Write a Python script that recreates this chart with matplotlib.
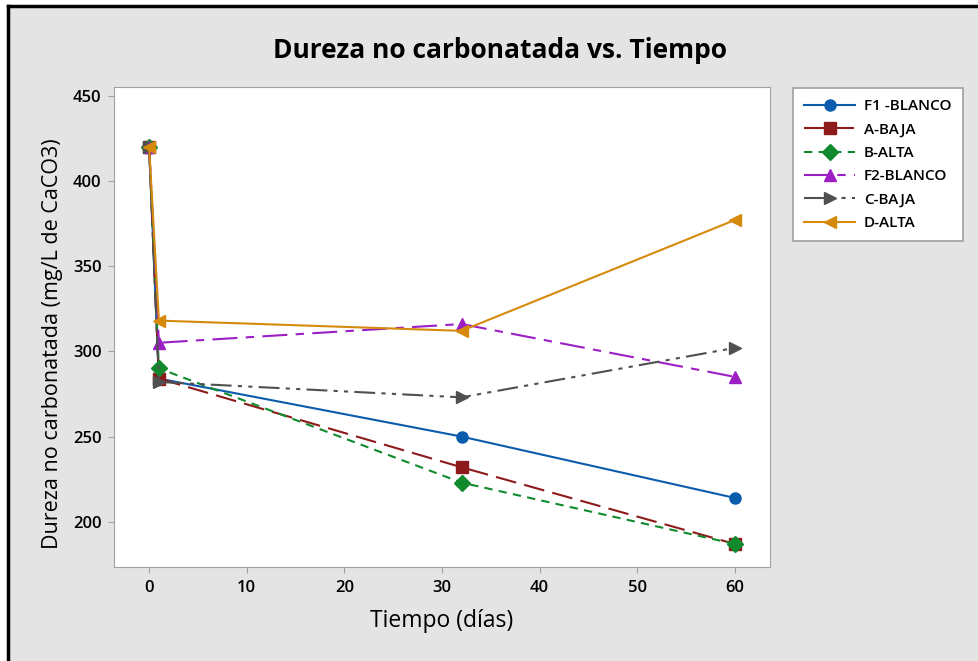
import matplotlib.pyplot as plt
from matplotlib.patches import Rectangle
from matplotlib.lines import Line2D

plt.rcParams['font.family'] = ['Open Sans', 'DejaVu Sans']

dias = [0, 1, 32, 60]
f1_blanco = [420, 284, 250, 214]
a_baja = [420, 284, 232, 187]
b_alta = [420, 290, 223, 187]
f2_blanco = [420, 305, 316, 285]
c_baja = [420, 282, 273, 302]
d_alta = [420, 318, 312, 377]

series = [
    ("F1 -BLANCO", f1_blanco, "#0B5CAD", "o", "-"),
    ("A-BAJA", a_baja, "#8E1B1B", "s", (0, (10, 4))),
    ("B-ALTA", b_alta, "#118A2E", "D", (0, (4, 3))),
    ("F2-BLANCO", f2_blanco, "#9C1FC4", "^", (0, (12, 4, 4, 4))),
    ("C-BAJA", c_baja, "#505050", ">", (0, (10, 3, 2, 3, 2, 3))),
    ("D-ALTA", d_alta, "#D68A0C", "<", "-"),
]

W, H = 979, 661
fig = plt.figure(figsize=(W / 100, H / 100), dpi=100, facecolor="white")

# gray panel with black left/top edge
fig.patches.append(Rectangle((8 / W, 0), 1, 1 - 6 / H, transform=fig.transFigure,
                             facecolor="#E4E4E4", edgecolor="none", zorder=-2))
fig.lines.append(Line2D([8 / W, 8 / W], [0, 1 - 6 / H], transform=fig.transFigure,
                        color="black", lw=2.5))
fig.lines.append(Line2D([8 / W, 1], [1 - 6 / H, 1 - 6 / H], transform=fig.transFigure,
                        color="black", lw=2.5))

ax = fig.add_axes([114 / W, 94 / H, (770 - 114) / W, (567 - 87) / H])
ax.set_facecolor("white")

for name, vals, col, mk, ls in series:
    ax.plot(dias, vals, color=col, marker=mk, linestyle=ls, lw=1.5,
            markersize=8, label=name)

ax.set_xlim(-3.6, 63.6)
ax.set_ylim(173.5, 455)
ax.set_xticks(range(0, 61, 10))
ax.set_yticks(range(200, 451, 50))
ax.tick_params(direction="out", length=4, color="#A0A0A0", labelsize=12, pad=5)
for lbl in ax.get_xticklabels() + ax.get_yticklabels():
    lbl.set_fontweight("semibold")
for sp in ax.spines.values():
    sp.set_color("#A0A0A0")

ax.set_xlabel("Tiempo (días)", fontsize=16.5, labelpad=10)
ax.set_ylabel("Dureza no carbonatada (mg/L de CaCO3)", fontsize=15.5)
ax.yaxis.set_label_coords(-0.078, 0.465)
fig.text(500 / W, 1 - 50 / H, "Dureza no carbonatada vs. Tiempo", ha="center",
         va="center", fontsize=19, fontweight="bold")

leg = fig.legend(loc="upper left", bbox_to_anchor=(793 / W, 1 - 88 / H),
                 borderaxespad=0, fontsize=11, frameon=True, fancybox=False,
                 handlelength=3.3, handletextpad=0.6, borderpad=0.75,
                 labelspacing=0.6, framealpha=1)
leg.get_frame().set_edgecolor("#A0A0A0")
leg.get_frame().set_linewidth(1.2)
for t in leg.get_texts():
    t.set_fontweight("semibold")

fig.savefig("out.png", dpi=100, facecolor=fig.get_facecolor())
